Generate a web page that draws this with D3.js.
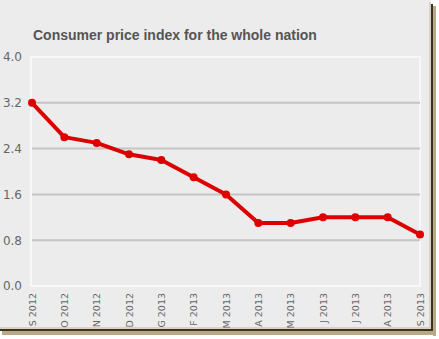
<!DOCTYPE html>
<html><head><meta charset="utf-8">
<script src="https://cdn.jsdelivr.net/npm/d3@7"></script>
<style>body{margin:0;background:#fff;}svg{display:block;}</style>
</head><body>
<script>
const categories = ["S 2012","O 2012","N 2012","D 2012","G 2013","F 2013","M 2013","A 2013","M 2013","J 2013","J 2013","A 2013","S 2013"];
const values = [3.2,2.6,2.5,2.3,2.2,1.9,1.6,1.1,1.1,1.2,1.2,1.2,0.9];
const yTicks = [0.0,0.8,1.6,2.4,3.2,4.0];
const title = "Consumer price index for the whole nation";

const W=439,H=339;
const svg=d3.select("body").append("svg").attr("width",W).attr("height",H);
// frame
svg.append("rect").attr("x",0).attr("y",0).attr("width",431).attr("height",329).attr("fill","#ececec");
svg.append("rect").attr("x",431).attr("y",4).attr("width",2).attr("height",329).attr("fill","#3b3222");
svg.append("rect").attr("x",433).attr("y",6).attr("width",3).attr("height",330).attr("fill","#b9a987");
svg.append("rect").attr("x",0).attr("y",329).attr("width",433).attr("height",2).attr("fill","#3b3222");
svg.append("rect").attr("x",2).attr("y",331).attr("width",434).attr("height",4).attr("fill","#b9a987");
svg.append("rect").attr("x",429).attr("y",2).attr("width",2).attr("height",327).attr("fill","#d8d2c4");
svg.append("rect").attr("x",0).attr("y",327).attr("width",431).attr("height",2).attr("fill","#d8d2c4");

const x=d3.scalePoint().domain(d3.range(categories.length)).range([32,420]);
const y=d3.scaleLinear().domain([0,4]).range([286,57]);

const g=svg.append("g");
g.append("rect").attr("x",31).attr("y",57).attr("width",389).attr("height",229)
 .attr("fill","none").attr("stroke","#f8f8f8").attr("stroke-width",2);
g.selectAll("line.grid").data(yTicks.filter(d=>d>0&&d<4)).join("line")
 .attr("x1",32).attr("x2",420).attr("y1",d=>y(d)).attr("y2",d=>y(d))
 .attr("stroke","#c4c4c4").attr("stroke-width",2);

const yAxis=d3.axisLeft(y).tickValues(yTicks).tickFormat(d3.format(".1f")).tickSize(0).tickPadding(0);
const ya=svg.append("g").attr("transform","translate(22,0)").call(yAxis);
ya.select(".domain").remove();
ya.selectAll("text").attr("font-family","DejaVu Sans, Verdana, sans-serif").attr("font-size",12).attr("fill","#666");

const xAxis=d3.axisBottom(x).tickFormat(i=>categories[i]).tickSize(0).tickPadding(0);
const xa=svg.append("g").attr("transform","translate(0,293)").call(xAxis);
xa.select(".domain").remove();
xa.selectAll("text").attr("font-family","DejaVu Sans, Verdana, sans-serif").attr("font-size",9.5).attr("fill","#666")
 .attr("text-anchor","end").attr("dy","0.35em").attr("transform","rotate(-90)").attr("x",0).attr("y",0);

const line=d3.line().x((d,i)=>x(i)).y(d=>y(d));
svg.append("path").datum(values).attr("d",line).attr("fill","none").attr("stroke","#dd0000")
 .attr("stroke-width",4).attr("stroke-linejoin","round");
svg.selectAll("circle.pt").data(values).join("circle").attr("class","pt")
 .attr("cx",(d,i)=>x(i)).attr("cy",d=>y(d)).attr("r",4).attr("fill","#dd0000");

svg.append("text").attr("x",33).attr("y",40).text(title)
 .attr("font-family","Liberation Sans, Arial, sans-serif").attr("font-weight","bold").attr("font-size",14).attr("fill","#555");
</script>
</body></html>
